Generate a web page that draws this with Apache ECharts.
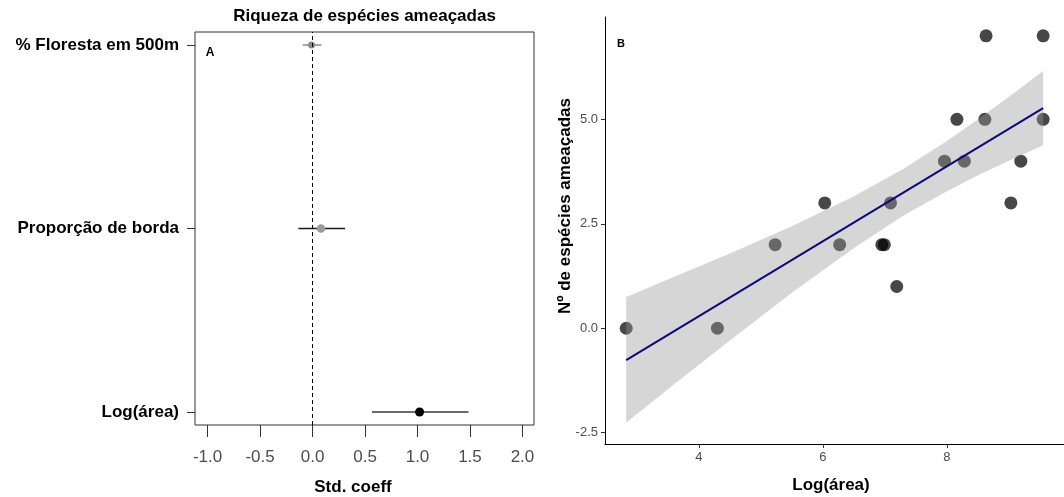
<!DOCTYPE html>
<html>
<head>
<meta charset="utf-8">
<title>Riqueza de espécies ameaçadas</title>
<script src="https://cdn.jsdelivr.net/npm/echarts@6/dist/echarts.min.js"></script>
<style>
  html, body { margin: 0; padding: 0; background: #ffffff; }
  #chart { width: 1064px; height: 497px; }
</style>
</head>
<body>
<div id="chart"></div>
<script>
// ---- Panel A: standardized coefficients with confidence intervals ----
const coefNames = ['% Floresta em 500m', 'Proporção de borda', 'Log(área)'];
const coefEst = [-0.01, 0.08, 1.02];
const coefLow = [-0.095, -0.135, 0.566];
const coefHigh = [0.085, 0.31, 1.486];
const coefTicks = [-1.0, -0.5, 0.0, 0.5, 1.0, 1.5, 2.0];

// ---- Panel B: species counts against log(area), with linear fit ----
const logArea = [2.83, 4.30, 5.23, 6.03, 6.27, 6.95, 6.99, 7.09, 7.19, 7.96,
                 8.16, 8.28, 8.61, 8.63, 9.03, 9.19, 9.55, 9.55];
const nSpecies = [0, 0, 2, 3, 2, 2, 2, 3, 1, 4,
                  5, 4, 5, 7, 3, 4, 5, 7];
const fitX = [2.83, 9.55];
const fitY = [-0.76, 5.27];
const bandX = [2.83, 3.5, 4.5, 5.5, 6.5, 7.3, 8.0, 8.5, 9.0, 9.55];
const bandLow = [-2.26, -1.46, -0.29, 0.85, 1.92, 2.70, 3.28, 3.66, 4.01, 4.38];
const bandHigh = [0.75, 1.17, 1.79, 2.44, 3.16, 3.82, 4.48, 5.00, 5.54, 6.16];
const xTicksB = [4, 6, 8];
const yTicksB = [-2.5, 0.0, 2.5, 5.0];

// styling for the coefficient marks (grey = n.s., black = significant)
const ciColors = ['#8a8a8a', '#1a1a1a', '#3a3a3a'];
const dotColors = ['#8a8a8a', '#9a9a9a', '#000000'];
const dotSizes = [7, 8.5, 9];

const FONT = "'Liberation Sans', Arial, Helvetica, sans-serif";

// rows are placed top to bottom: first name at the top
const coefRows = coefNames.map((n, i) => coefNames.length - i);

const chart = echarts.init(document.getElementById('chart'), null, { renderer: 'canvas' });

const option = {
  backgroundColor: '#ffffff',
  animation: false,
  grid: [
    { left: 195, top: 32, width: 339, height: 393, show: true, borderColor: '#333333', borderWidth: 1, backgroundColor: 'transparent' },
    { left: 605, top: 17, width: 468.3, height: 427, show: false }
  ],
  xAxis: [
    {
      gridIndex: 0, type: 'value', min: -1.12, max: 2.11,
      axisLine: { show: false, onZero: false },
      axisTick: { show: true, length: 12, lineStyle: { color: '#333333', width: 1 }, customValues: coefTicks },
      axisLabel: { customValues: coefTicks, formatter: v => v.toFixed(1), color: '#4d4d4d', fontSize: 17, fontFamily: FONT, margin: 24 },
      splitLine: { show: false }
    },
    {
      gridIndex: 1, type: 'value', min: 2.488, max: 9.886,
      axisLine: { show: true, onZero: false, lineStyle: { color: '#000000', width: 1 } },
      axisTick: { show: true, length: 4, lineStyle: { color: '#333333' }, customValues: xTicksB },
      axisLabel: { customValues: xTicksB, formatter: v => String(v), color: '#4d4d4d', fontSize: 13, fontFamily: FONT, margin: 7 },
      splitLine: { show: false }
    }
  ],
  yAxis: [
    {
      gridIndex: 0, type: 'value', min: 0.929, max: 3.071,
      axisLine: { show: false, onZero: false },
      axisTick: { show: true, length: 8, lineStyle: { color: '#333333' }, customValues: coefRows },
      axisLabel: {
        customValues: coefRows,
        formatter: v => coefNames[coefNames.length - Math.round(v)],
        color: '#000000', fontSize: 17, fontWeight: 'bold', fontFamily: FONT, margin: 16
      },
      splitLine: { show: false }
    },
    {
      gridIndex: 1, type: 'value', min: -2.77, max: 7.45,
      axisLine: { show: true, onZero: false, lineStyle: { color: '#000000', width: 1 } },
      axisTick: { show: true, length: 4, lineStyle: { color: '#333333' }, customValues: yTicksB },
      axisLabel: { customValues: yTicksB, formatter: v => v.toFixed(1), color: '#4d4d4d', fontSize: 13, fontFamily: FONT, margin: 7 },
      splitLine: { show: false }
    }
  ],
  series: [
    // confidence interval segments + zero reference line
    {
      type: 'custom', xAxisIndex: 0, yAxisIndex: 0,
      data: coefNames.map((n, i) => [coefEst[i], coefRows[i], coefLow[i], coefHigh[i]]),
      encode: { x: [2, 3], y: 1 },
      renderItem: function (params, api) {
        const y = api.value(1);
        const a = api.coord([api.value(2), y]);
        const b = api.coord([api.value(3), y]);
        return {
          type: 'line',
          shape: { x1: a[0], y1: a[1], x2: b[0], y2: b[1] },
          style: { stroke: ciColors[params.dataIndex], lineWidth: 1.5 }
        };
      },
      markLine: {
        silent: true, symbol: 'none',
        label: { show: false },
        lineStyle: { color: '#000000', type: [4, 3], width: 1 },
        data: [{ xAxis: 0 }]
      },
      z: 3
    },
    // coefficient estimates
    {
      type: 'scatter', xAxisIndex: 0, yAxisIndex: 0,
      data: coefNames.map((n, i) => ({
        value: [coefEst[i], coefRows[i]],
        symbolSize: dotSizes[i],
        itemStyle: { color: dotColors[i], opacity: 1 }
      })),
      z: 4
    },
    // observed sites (drawn first, so the band tints those it covers)
    {
      type: 'scatter', xAxisIndex: 1, yAxisIndex: 1,
      data: logArea.map((x, i) => [x, nSpecies[i]]),
      symbol: 'circle', symbolSize: 13,
      itemStyle: { color: '#000000', opacity: 0.72 },
      z: 2
    },
    // confidence band of the linear fit
    {
      type: 'custom', xAxisIndex: 1, yAxisIndex: 1,
      data: bandX.map((x, i) => [x, bandLow[i], bandHigh[i]]),
      encode: { x: 0, y: [1, 2] },
      renderItem: function (params, api) {
        if (params.dataIndex !== 0) return;
        const upper = bandX.map((x, i) => api.coord([x, bandHigh[i]]));
        const lower = bandX.map((x, i) => api.coord([x, bandLow[i]])).reverse();
        return {
          type: 'polygon',
          shape: { points: upper.concat(lower) },
          style: { fill: 'rgba(153,153,153,0.4)' }
        };
      },
      z: 3
    },
    // fitted line
    {
      type: 'line', xAxisIndex: 1, yAxisIndex: 1,
      data: fitX.map((x, i) => [x, fitY[i]]),
      showSymbol: false, symbol: 'none',
      lineStyle: { color: '#0a0a7c', width: 2 },
      z: 4
    }
  ],
  graphic: [
    { type: 'text', x: 364.5, y: 16, style: { text: 'Riqueza de espécies ameaçadas', font: "bold 17px " + FONT, fill: '#000000', align: 'center', verticalAlign: 'middle' } },
    { type: 'text', x: 353, y: 487, style: { text: 'Std. coeff', font: "bold 17px " + FONT, fill: '#000000', align: 'center', verticalAlign: 'middle' } },
    { type: 'text', x: 210, y: 53, style: { text: 'A', font: "bold 12px " + FONT, fill: '#000000', align: 'center', verticalAlign: 'middle' } },
    { type: 'text', x: 621, y: 44, style: { text: 'B', font: "bold 11px " + FONT, fill: '#000000', align: 'center', verticalAlign: 'middle' } },
    { type: 'text', x: 831, y: 485, style: { text: 'Log(área)', font: "bold 17px " + FONT, fill: '#000000', align: 'center', verticalAlign: 'middle' } },
    { type: 'text', x: 565, y: 206, rotation: Math.PI / 2, style: { text: 'Nº de espécies ameaçadas', font: "bold 17px " + FONT, fill: '#000000', align: 'center', verticalAlign: 'middle' } }
  ]
};

chart.setOption(option);
</script>
</body>
</html>
